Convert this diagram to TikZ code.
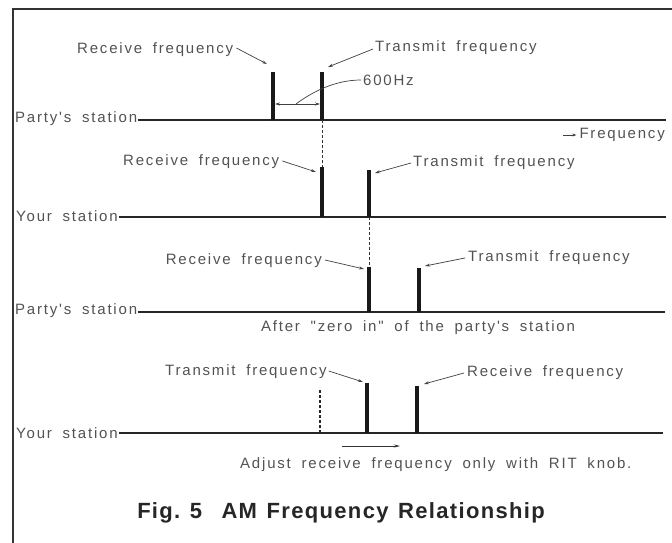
\documentclass[tikz,border=0pt]{standalone}
\usepackage{fontspec}
\setmainfont{Liberation Sans}
\newfontfamily\lblfont[LetterSpace=12,WordSpace=1.8]{Liberation Sans}
\newfontfamily\capfont[LetterSpace=6,WordSpace=1.3]{Liberation Sans}
\usetikzlibrary{arrows.meta}
\begin{document}
\begin{tikzpicture}[x=1pt,y=-1pt,
  lbl/.style={font=\lblfont\fontsize{15}{17}\selectfont, text=black!68, inner sep=0pt},
  base/.style={line width=1.8pt, draw=black!85},
  bar/.style={line width=3.5pt, draw=black!90},
  lead/.style={line width=0.7pt, draw=black!75, -{Stealth[length=5pt,width=3pt]}},
  dimline/.style={line width=0.7pt, draw=black!75, {Stealth[length=5pt,width=3pt]}-{Stealth[length=5pt,width=3pt]}},
  guide/.style={line width=0.8pt, draw=black!80, dash pattern=on 3pt off 2pt},
  guidethick/.style={line width=2pt, draw=black!85, dash pattern=on 3pt off 2pt},
  frame/.style={line width=2pt, draw=black!80},
]
\useasboundingbox (0,0) rectangle (672,543);
% frame
\coordinate (fbl) at (13,543);
\coordinate (ftl) at (13,9);
\coordinate (ftr) at (672,9);
\draw[frame] (fbl) -- (ftl) -- (ftr);

% ---------- row 1: party's station ----------
\node[lbl,anchor=west] (r1) at (77,50) {Receive frequency};
\node[lbl,anchor=west] (t1) at (375,48) {Transmit frequency};
\node[lbl,anchor=west] (hz) at (363,80) {600Hz};
\node[lbl,anchor=west] (p1) at (15,119) {Party's station};
\node[lbl,anchor=east] (fq) at (665,135) {Frequency};
\coordinate (e1) at (666,120);
\draw[base] ([xshift=1pt]p1.east |- e1) -- (e1);
\coordinate (b1rb) at (273,120); \coordinate (b1rt) at (273,72);
\coordinate (b1tb) at (322,120); \coordinate (b1tt) at (322,72);
\draw[bar] (b1rb) -- (b1rt);
\draw[bar] (b1tb) -- (b1tt);
\coordinate (d1l) at (275,104); \coordinate (d1r) at (320,104);
\draw[dimline] (d1l) -- (d1r);
\coordinate (hzend) at (296,104);
\draw[line width=0.7pt, draw=black!75] ([xshift=-2pt]hz.west) .. controls (335,80) and (312,92) .. (hzend);
\coordinate (r1tip) at (267,64);
\coordinate (t1tip) at (328,67);
\draw[lead] ([xshift=3pt,yshift=2pt]r1.east) -- (r1tip);
\draw[lead] ([xshift=-2pt,yshift=-1pt]t1.west) -- (t1tip);
\coordinate (fqs) at ([xshift=-16pt]fq.west);
\coordinate (fqt) at ([xshift=-3pt]fq.west);
\draw[line width=0.7pt, draw=black!75, -{Stealth[length=4pt,width=3pt]}] (fqs) -- (fqt);

% ---------- row 2: your station ----------
\node[lbl,anchor=west] (r2) at (123,162) {Receive frequency};
\node[lbl,anchor=west] (t2) at (413,163) {Transmit frequency};
\node[lbl,anchor=west] (y1) at (16,216) {Your station};
\coordinate (e2) at (666,217);
\draw[base] ([xshift=1pt]y1.east |- e2) -- (e2);
\coordinate (b2rb) at (322,217); \coordinate (b2rt) at (322,167);
\coordinate (b2tb) at (369,217); \coordinate (b2tt) at (369,170);
\draw[guide] (b1tb) -- (b2rt);
\draw[bar] (b2rb) -- (b2rt);
\draw[bar] (b2tb) -- (b2tt);
\coordinate (r2tip) at (316,172);
\coordinate (t2tip) at (375,173);
\draw[lead] ([xshift=3pt,yshift=1pt]r2.east) -- (r2tip);
\draw[lead] ([xshift=-2pt]t2.west) -- (t2tip);

% ---------- row 3: party's station after zero in ----------
\node[lbl,anchor=east] (r3) at (322,261) {Receive frequency};
\node[lbl,anchor=west] (t3) at (468,258) {Transmit frequency};
\node[lbl,anchor=west] (p2) at (15,311) {Party's station};
\coordinate (e3) at (665,312);
\draw[base] ([xshift=1pt]p2.east |- e3) -- (e3);
\coordinate (b3rb) at (369,312); \coordinate (b3rt) at (369,267);
\coordinate (b3tb) at (419,312); \coordinate (b3tt) at (419,268);
\draw[guide] (b2tb) -- (b3rt);
\draw[bar] (b3rb) -- (b3rt);
\draw[bar] (b3tb) -- (b3tt);
\coordinate (r3tip) at (364,269);
\coordinate (t3tip) at (425,266);
\draw[lead] ([xshift=3pt,yshift=1pt]r3.east) -- (r3tip);
\draw[lead] ([xshift=-3pt]t3.west) -- (t3tip);
\node[lbl] (az) at (418,328) {After "zero in" of the party's station};

% ---------- row 4: your station with RIT ----------
\node[lbl,anchor=west] (t4) at (165,372) {Transmit frequency};
\node[lbl,anchor=west] (r4) at (467,373) {Receive frequency};
\node[lbl,anchor=west] (y2) at (16,433) {Your station};
\coordinate (e4) at (663,433);
\draw[base] ([xshift=1pt]y2.east |- e4) -- (e4);
\coordinate (b4ob) at (320,433); \coordinate (b4ot) at (320,390);
\coordinate (b4tb) at (367,433); \coordinate (b4tt) at (367,383);
\coordinate (b4rb) at (417,433); \coordinate (b4rt) at (417,386);
\draw[guidethick] (b4ob) -- (b4ot);
\draw[bar] (b4tb) -- (b4tt);
\draw[bar] (b4rb) -- (b4rt);
\coordinate (t4tip) at (363,382);
\coordinate (r4tip) at (424,384);
\draw[lead] ([xshift=2pt,yshift=1pt]t4.east) -- (t4tip);
\draw[lead] ([xshift=-3pt]r4.west) -- (r4tip);
\coordinate (rits) at (342,446);
\coordinate (ritt) at (400,446);
\draw[line width=0.8pt, draw=black!80, -{Stealth[length=6pt,width=3pt]}] (rits) -- (ritt);
\node[lbl,anchor=west] (adj) at (240,465) {Adjust receive frequency only with RIT knob.};

% ---------- caption ----------
\node[font=\capfont\bfseries\fontsize{22}{25}\selectfont, text=black!85, inner sep=0pt] (cap) at (341,513) {Fig.~5~~AM Frequency Relationship};
\end{tikzpicture}
\end{document}
